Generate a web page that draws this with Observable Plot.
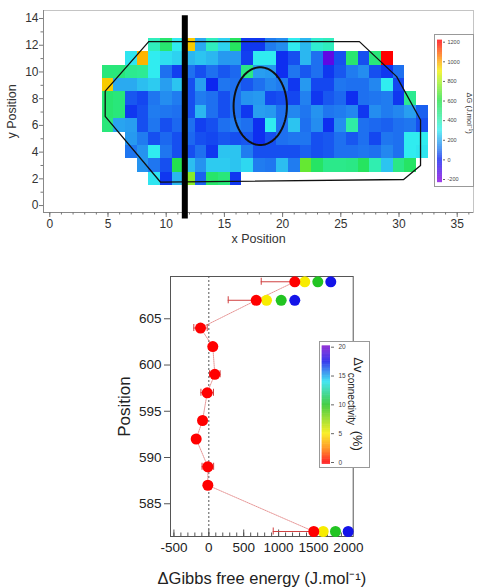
<!DOCTYPE html>
<html><head><meta charset="utf-8">
<script src="https://cdn.jsdelivr.net/npm/d3@7"></script>
<script src="https://cdn.jsdelivr.net/npm/@observablehq/plot@0.6"></script>
<style>
body{margin:0;background:#fff;font-family:"Liberation Sans",Arial,sans-serif;}
#wrap{position:relative;width:483px;height:588px;overflow:hidden;}
svg{display:block;overflow:visible;}
.box{position:absolute;background:#fff;border:1px solid #999;box-sizing:border-box;}
</style></head><body><div id="wrap"></div>
<script>
const FONT = "Liberation Sans, Arial, sans-serif";

// ---------- Top chart: ΔG map ----------
const gridY = [12, 11, 10, 9, 8, 7, 6, 5, 4, 3, 2];
const gridXStart = [9, 7, 5, 5, 5, 5, 5, 7, 7, 8, 9];
const dG_y12 = [380,520,300,950,200,380,260,550,30,30,120,150,300,220,350,380];
const dG_y11 = [290,980,300,280,260,220,240,220,170,170,40,300,300,20,60,220,100,-150,60,520,60,500,1200];
const dG_y10 = [500,500,460,450,300,100,40,100,60,100,70,90,480,180,170,20,110,70,100,30,70,120,150,60,30,100];
const dG_y9  = [950,200,200,230,250,180,240,60,180,10,110,100,70,100,140,120,30,170,50,50,110,100,100,140,300,50];
const dG_y8  = [520,500,70,50,110,150,120,60,120,100,60,100,160,170,50,60,50,130,30,70,90,20,100,110,120,30,460];
const dG_y7  = [520,500,30,60,120,110,100,60,220,100,60,100,30,180,170,100,140,110,160,110,120,140,30,150,120,140,180,80];
const dG_y6  = [500,190,180,60,110,60,90,100,40,60,100,120,100,20,300,100,240,100,150,20,150,420,100,90,80,100,110,60];
const dG_y5  = [170,120,60,90,60,90,60,50,70,60,70,20,60,100,110,110,60,70,100,70,100,50,110,100,300,300];
const dG_y4  = [110,160,300,110,60,60,100,30,240,240,120,60,60,60,60,80,60,70,100,100,110,100,140,100,300,290];
const dG_y3  = [160,110,60,580,230,160,250,250,240,270,120,110,230,120,700,540,470,470,480,550,400,240,480,540];
const dG_y2  = [290,30,220,750,80,530,500,30];
const dGRows = [dG_y12, dG_y11, dG_y10, dG_y9, dG_y8, dG_y7, dG_y6, dG_y5, dG_y4, dG_y3, dG_y2];

const dgStops  = [-200, 0, 100, 200, 300, 400, 600, 800, 900, 1000, 1200];
const dgColors = ["#7b00e0","#0a1ef0","#1e70f0","#2aaaf0","#30ecf0","#30eeb0","#22e044","#a8f020","#f0f000","#ffa500","#ff0000"];
const dgLegendTicks = [-200, 0, 200, 400, 600, 800, 1000, 1200];

const polyX = [8.5, 26.6, 29.8, 31.85, 31.85, 30.4, 9.5, 4.76, 4.76, 8.5];
const polyY = [12.27, 12.27, 9.65, 6.4, 3.0, 1.95, 1.76, 6.68, 8.56, 12.27];
const ellipseCenter = [18.08, 7.44];
const ellipseRadius = [2.29, 2.91];
const barPosX = [11.6];

const xMajor = [0, 5, 10, 15, 20, 25, 30, 35];
const xMinor = d3.range(0, 37);
const yMajor = [0, 2, 4, 6, 8, 10, 12, 14];
const yMinor = [1, 3, 5, 7, 9, 11, 13];

// ---------- Bottom chart ----------
const posY      = [609, 607, 604, 602, 599, 597, 594, 592, 589, 587, 582];
const dG0       = [1232, 679, -119, 57, 86, -23, -90, -181, -14, -14, 1504];
const errMinus  = [481, 401, 96, 0, 76, 90, 0, 0, 83, 0, 581];
const errPlus   = [0, 0, 96, 0, 76, 90, 0, 0, 83, 0, 0];
const extraPos  = [609, 607, 582];
const dG5       = [1375, 827, 1639];
const dG10      = [1562, 1037, 1815];
const dG17      = [1748, 1232, 1997];
const connLevels = [5, 10, 17.5];
const vcStops  = [0, 2.5, 5, 10, 14, 17.5, 20];
const vcColors = ["#ff0000","#ff8800","#f8ec00","#22c422","#22e0f0","#1414e8","#7a10d0"];
const vcLegendTicks = [0, 5, 10, 15, 20];
const bxTicks = [-500, 0, 500, 1000, 1500, 2000];
const bxMinor = d3.range(-500, 2001, 100);
const byTicks = [585, 590, 595, 600, 605];

const wrap = document.getElementById("wrap");
function place(el, left, top) { el.style.position = "absolute"; el.style.left = left + "px"; el.style.top = top + "px"; wrap.appendChild(el); return el; }
function box(left, top, w, h) { const d = document.createElement("div"); d.className = "box"; d.style.width = w + "px"; d.style.height = h + "px"; return place(d, left, top); }
const fmt = d => String(d);

const dgColor = {type: "linear", domain: dgStops, range: dgColors, interpolate: "rgb", clamp: true};
const vcColor = {type: "linear", domain: vcStops, range: vcColors, interpolate: "rgb", clamp: true};

const cells = [];
gridY.forEach((y, i) => dGRows[i].forEach((v, j) => cells.push({x: gridXStart[i] + j, y, v})));
const polyPts = polyX.map((x, i) => ({x, y: polyY[i]}));
const ellPts = d3.range(0, 361, 4).map(a => ({x: ellipseCenter[0] + ellipseRadius[0] * Math.cos(a * Math.PI / 180), y: ellipseCenter[1] + ellipseRadius[1] * Math.sin(a * Math.PI / 180)}));

const tyDom = [-0.52, 14.6];
const mapChart = Plot.plot({
  width: 483, height: 250, marginLeft: 43, marginRight: 10, marginTop: 10, marginBottom: 38,
  x: {domain: [-0.54, 36.4]}, y: {domain: tyDom},
  color: dgColor,
  style: {fontFamily: FONT, color: "#333", background: "transparent"},
  marks: [
    Plot.rect(cells, {x1: d => d.x - 0.5, x2: d => d.x + 0.5, y1: d => d.y - 0.5, y2: d => d.y + 0.5, fill: "v", shapeRendering: "crispEdges"}),
    Plot.line(polyPts, {x: "x", y: "y", stroke: "#111", strokeWidth: 1.3}),
    Plot.line(ellPts, {x: "x", y: "y", stroke: "#111", strokeWidth: 2}),
    Plot.frame({stroke: "#c4c4c4"}),
    Plot.ruleX([-0.54], {stroke: "#888"}),
    Plot.ruleY([tyDom[0]], {stroke: "#888"}),
    Plot.axisX({ticks: xMinor, tickSize: 2.5, tickFormat: () => "", label: null, stroke: "#777"}),
    Plot.axisX({ticks: xMajor, tickSize: 5, tickPadding: 2, tickFormat: fmt, fontSize: 12, label: null, stroke: "#777", fill: "#333"}),
    Plot.axisY({ticks: yMinor, tickSize: 2.5, tickFormat: () => "", label: null, stroke: "#777"}),
    Plot.axisY({ticks: yMajor, tickSize: 4, tickPadding: 1, tickFormat: fmt, fontSize: 12, label: null, stroke: "#777", fill: "#333"}),
    Plot.ruleX(barPosX, {y1: -1.0, y2: 14.2, stroke: "#000", strokeWidth: 6}),
    Plot.text(["x Position"], {frameAnchor: "bottom", dy: 26, lineAnchor: "middle", fontSize: 12.5, fill: "#333"}),
    Plot.text(["y Position"], {frameAnchor: "left", dx: -32, rotate: -90, textAnchor: "middle", lineAnchor: "middle", fontSize: 12.5, fill: "#333"})
  ]
});
place(mapChart, 0, 0);

// top colour bar
box(434, 34, 40, 153);
const dgRamp = d3.range(-232, 1218, 4);
const cb1 = Plot.plot({
  width: 40, height: 153, marginLeft: 3, marginRight: 32, marginTop: 7.7, marginBottom: 8,
  x: {domain: [0, 1], axis: null}, y: {domain: [-200, 1200]},
  color: dgColor,
  style: {fontFamily: FONT, background: "transparent"},
  marks: [
    Plot.rect(dgRamp, {x1: 0, x2: 1, y1: d => d, y2: d => d + 4.5, fill: d => d + 2}),
    Plot.axisY({anchor: "right", ticks: dgLegendTicks, tickSize: 2, tickPadding: 3, tickFormat: fmt, fontSize: 5.5, label: null, stroke: "#666", fill: "#444"}),
    Plot.text(["ΔG (J.mol⁻¹)"], {frameAnchor: "top-left", dx: 32, dy: 71, rotate: 90, textAnchor: "middle", lineAnchor: "middle", fontSize: 7.5, fill: "#333"})
  ]
});
place(cb1, 434, 34);

// ---------- Bottom chart ----------
const pts = posY.map((y, i) => ({y, x: dG0[i], lo: dG0[i] - errMinus[i], hi: dG0[i] + errPlus[i], c: 0}));
const bars = pts.filter(d => d.hi > d.lo);
const caps = [];
posY.forEach((y, i) => { if (errMinus[i] > 0) caps.push({y, x: dG0[i] - errMinus[i]}); if (errPlus[i] > 0) caps.push({y, x: dG0[i] + errPlus[i]}); });
const extra = [];
extraPos.forEach((y, i) => { [dG5[i], dG10[i], dG17[i]].forEach((x, k) => extra.push({y, x, c: connLevels[k]})); });
const byDom = [581.46, 609.57];
const capH = 0.38;

const gibbsChart = Plot.plot({
  width: 483, height: 338, marginLeft: 170, marginRight: 130.3, marginTop: 26, marginBottom: 52,
  x: {domain: [-549, 2069]}, y: {domain: byDom},
  color: vcColor,
  style: {fontFamily: FONT, color: "#222", background: "transparent"},
  marks: [
    Plot.frame({stroke: "#555"}),
    Plot.ruleX([0], {stroke: "#555", strokeDasharray: "2,2", strokeWidth: 1}),
    Plot.ruleX(bxMinor, {x: d => d, y1: byDom[0], y2: byDom[0] + 3.5 / 9.25, stroke: "#555"}),
    Plot.ruleX(bxTicks, {x: d => d, y1: byDom[0], y2: byDom[0] + 6.5 / 9.25, stroke: "#555"}),
    Plot.axisX({ticks: bxTicks, tickSize: 0, tickPadding: 6, tickFormat: fmt, fontSize: 13.5, label: null, fill: "#222"}),
    Plot.axisY({ticks: byTicks, tickSize: 6, tickPadding: 3, tickFormat: fmt, fontSize: 13.5, label: null, stroke: "#555", fill: "#222"}),
    Plot.line(pts, {x: "x", y: "y", stroke: "#e07a7a", strokeWidth: 0.8, strokeDasharray: "1,1"}),
    Plot.ruleY(bars, {y: "y", x1: "lo", x2: "hi", stroke: "#d04040", strokeWidth: 1}),
    Plot.ruleX(caps, {x: "x", y1: d => d.y - capH, y2: d => d.y + capH, stroke: "#d04040", strokeWidth: 1}),
    Plot.dot(extra, {x: "x", y: "y", r: 5.5, fill: "c"}),
    Plot.dot(pts, {x: "x", y: "y", r: 5.5, fill: "c"}),
    Plot.text(["Position"], {frameAnchor: "left", dx: -46, rotate: -90, textAnchor: "middle", lineAnchor: "middle", fontSize: 17, fill: "#222"}),
    Plot.text(["ΔGibbs free energy (J.mol⁻¹)"], {frameAnchor: "bottom", dy: 42, lineAnchor: "middle", fontSize: 16.5, fill: "#222"})
  ]
});
place(gibbsChart, 0, 250);

// bottom colour bar
box(319, 341, 51, 127);
const vcRamp = d3.range(-0.3, 20.2, 0.1);
const cb2 = Plot.plot({
  width: 51, height: 127, marginLeft: 2.7, marginRight: 40, marginTop: 5.7, marginBottom: 6,
  x: {domain: [0, 1], axis: null}, y: {domain: [0, 20]},
  color: vcColor,
  style: {fontFamily: FONT, background: "transparent"},
  marks: [
    Plot.rect(vcRamp, {x1: 0, x2: 1, y1: d => d, y2: d => d + 0.12, fill: d => d + 0.05}),
    Plot.axisY({anchor: "right", ticks: vcLegendTicks, tickSize: 3, tickPadding: 5, tickFormat: fmt, fontSize: 6.5, label: null, stroke: "#666", fill: "#444"}),
    Plot.text(["Δv"], {frameAnchor: "top-left", dx: 35.8, dy: 17.6, rotate: 90, textAnchor: "middle", lineAnchor: "middle", fontSize: 13, fill: "#222"}),
    Plot.text(["connectivity"], {frameAnchor: "top-left", dx: 29.3, dy: 51.6, rotate: 90, textAnchor: "middle", lineAnchor: "middle", fontSize: 10, fill: "#222"}),
    Plot.text(["(%)"], {frameAnchor: "top-left", dx: 35.3, dy: 93.6, rotate: 90, textAnchor: "middle", lineAnchor: "middle", fontSize: 13, fill: "#222"})
  ]
});
place(cb2, 319, 341);
</script></body></html>
